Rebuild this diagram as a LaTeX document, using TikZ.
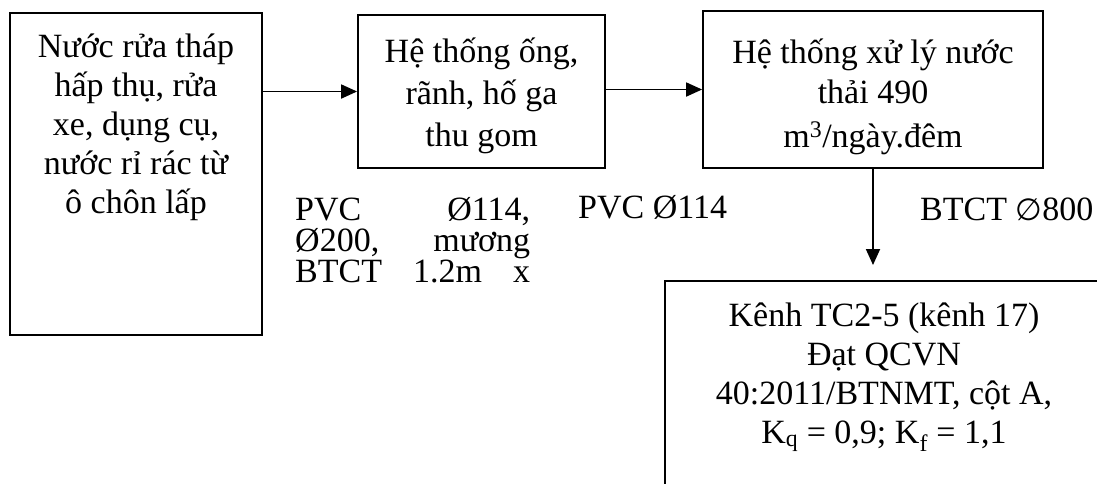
\documentclass[tikz,border=0pt]{standalone}
\usepackage{fontspec}
\setmainfont{Liberation Serif}
\newfontfamily\symfont[Scale=0.9]{DejaVu Sans}
\usetikzlibrary{arrows.meta}
\begin{document}
\begin{tikzpicture}[x=1pt,y=-1pt,
  box/.style={draw, line width=1.8pt, inner sep=0pt},
  txt/.style={anchor=base, inner sep=0pt, font=\fontsize{34}{39}\selectfont},
  lbl/.style={txt, anchor=base west},
  flow/.style={line width=1.8pt, -{Triangle[length=16pt,width=14pt]}}]
\useasboundingbox (0,0) rectangle (1097,483);
\clip (0,0) rectangle (1097,483);

% boxes
\node[box, minimum width=252pt, minimum height=322pt] (src) at (136,174) {};
\node[box, minimum width=247pt, minimum height=153pt] (col) at (481.5,91.5) {};
\node[box, minimum width=340pt, minimum height=157pt] (trt) at (873,89.5) {};
\node[box, minimum width=440pt, minimum height=218pt] (out) at (885,390) {};

% source box text
\node[txt] (s1) at (136,57)  {Nước rửa tháp};
\node[txt] (s2) at (136,96)  {hấp thụ, rửa};
\node[txt] (s3) at (136,135) {xe, dụng cụ,};
\node[txt] (s4) at (136,174) {nước rỉ rác từ};
\node[txt] (s5) at (136,213) {ô chôn lấp};

% collection box text
\node[txt] (c1) at (481.5,62)  {Hệ thống ống,};
\node[txt] (c2) at (481.5,104) {rãnh, hố ga};
\node[txt] (c3) at (481.5,146) {thu gom};

% treatment box text
\node[txt] (t1) at (873,63)  {Hệ thống xử lý nước};
\node[txt] (t2) at (873,103) {thải 490};
\node[txt] (t3) at (873,147) {m\textsuperscript{3}/ngày.đêm};

% receiving channel text
\node[txt] (o1) at (884,326) {Kênh TC2-5 (kênh 17)};
\node[txt] (o2) at (884,365) {Đạt QCVN};
\node[txt] (o3) at (884,404) {40:2011/BTNMT, cột A,};
\node[txt] (o4) at (884,443) {K\textsubscript{q} = 0,9; K\textsubscript{f} = 1,1};

% pipe labels
\node[lbl] (p1) at (295,220) {\hbox to 235pt{PVC\hfill Ø114,}};
\node[lbl] (p2) at (295,251) {\hbox to 235pt{Ø200,\hfill mương}};
\node[lbl] (p3) at (295,282) {\hbox to 235pt{BTCT\hfill 1.2m\hfill x}};
\node[lbl] (p4) at (578,218) {PVC Ø114};
\node[lbl] (p5) at (920,220) {BTCT {\symfont ∅}800};

% connectors
\coordinate (drop) at (873,265);
\draw[flow] (src.east |- col.west) -- (col.west);
\draw[flow] (col.east |- trt.west) -- (trt.west);
\draw[flow] (trt.south) -- (drop);
\end{tikzpicture}
\end{document}
